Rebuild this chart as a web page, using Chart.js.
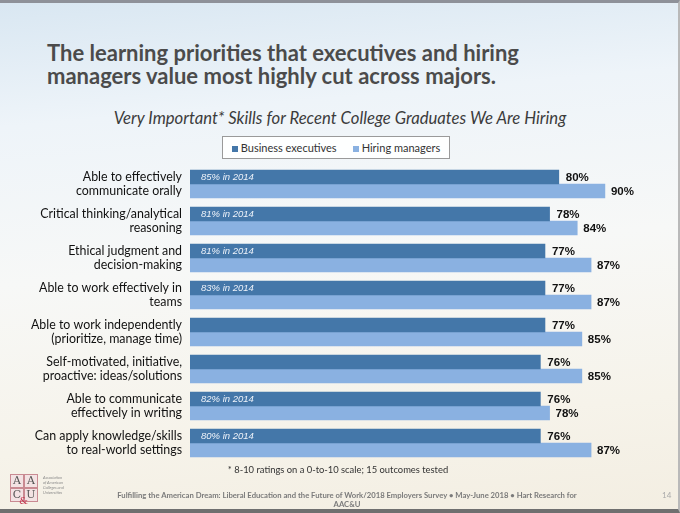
<!DOCTYPE html>
<html>
<head>
<meta charset="utf-8">
<script src="https://cdn.jsdelivr.net/npm/chart.js@4.4.1/dist/chart.umd.min.js"></script>
<style>
  html, body { margin: 0; padding: 0; }
  body { width: 680px; height: 513px; overflow: hidden; font-family: Lato, "Open Sans", sans-serif; }
  #slide {
    position: relative; width: 680px; height: 513px; box-sizing: border-box;
    background: linear-gradient(175deg, #d9e7f2 0%, #eef4f9 22%, #f7f8f7 50%, #f6f3ea 80%, #f3eee2 100%);
    border-top: 3px solid #8e9199; border-bottom: 4px solid #6f6f6f; border-right: 2px solid #b9b9b9;
  }
  /* children are placed from below the 3px top border */
  #title { position: absolute; left: 47px; top: 38px; margin: 0; font-size: 22px; line-height: 23px; font-weight: bold; color: #4b4b4b; }
  #sub { position: absolute; left: 0; width: 680px; top: 105px; text-align: center; font-size: 16.7px; font-style: italic; color: #3c3c3c; }
  #legend { position: absolute; left: 222px; top: 133px; width: 226px; height: 21px; background: rgba(255,255,255,0.92); border: 1px solid #9a9a9a; font-size: 11px; color: #333; text-align: center; line-height: 21px; }
  #legend span.sw { display: inline-block; width: 6px; height: 6px; margin-right: 3px; }
  #legend span.it { margin: 0 8px; }
  #chartBox { position: absolute; left: 0; top: 154px; width: 678px; height: 310px; }
  #note { position: absolute; left: 0; width: 676px; top: 461px; text-align: center; font-size: 9.4px; color: #333; }
  #footer { position: absolute; left: 100px; width: 494px; top: 488px; text-align: center; font-size: 7.7px; line-height: 9px; color: #7a7a7a; font-weight: bold; }
  #page { position: absolute; left: 662px; top: 487px; font-size: 8px; color: #aaa; }
  #logo { position: absolute; left: 10px; top: 471px; width: 28px; height: 28px; }
  #logo div { position: absolute; width: 12px; height: 12px; border: 1px solid #c98a92; background: #f3e2e3; font-family: "DejaVu Serif", serif; font-size: 11px; line-height: 12px; text-align: center; color: #555; }
  #logo span.amp { position: absolute; left: 9px; top: 21px; font-family: "DejaVu Serif", serif; font-size: 10px; color: #c4364f; }
  #logotext { position: absolute; left: 43px; top: 472px; font-size: 4px; line-height: 5px; color: #888; font-style: italic; }
</style>
</head>
<body>
<div id="slide">
  <h1 id="title">The learning priorities that executives and hiring<br>managers value most highly cut across majors.</h1>
  <div id="sub">Very Important* Skills for Recent College Graduates We Are Hiring</div>
  <div id="legend"></div>
  <div id="chartBox"><canvas id="chart"></canvas></div>
  <div id="note">* 8-10 ratings on a 0-to-10 scale; 15 outcomes tested</div>
  <div id="logo">
    <div style="left:0;top:0">A</div><div style="left:14px;top:0">A</div>
    <div style="left:0;top:14px">C</div><div style="left:14px;top:14px">U</div>
    <span class="amp">&amp;</span>
  </div>
  <div id="logotext">Association<br>of American<br>Colleges and<br>Universities</div>
  <div id="footer">Fulfilling the American Dream: Liberal Education and the Future of Work/2018 Employers Survey • May-June 2018 • Hart Research for<br>AAC&amp;U</div>
  <div id="page">14</div>
</div>
<script>
var skills = [
  ['Able to effectively', 'communicate orally'],
  ['Critical thinking/analytical', 'reasoning'],
  ['Ethical judgment and', 'decision-making'],
  ['Able to work effectively in', 'teams'],
  ['Able to work independently', '(prioritize, manage time)'],
  ['Self-motivated, initiative,', 'proactive: ideas/solutions'],
  ['Able to communicate', 'effectively in writing'],
  ['Can apply knowledge/skills', 'to real-world settings']
];
var executives = [80, 78, 77, 77, 77, 76, 76, 76];
var managers = [90, 84, 87, 87, 85, 85, 78, 87];
var execs2014 = [85, 81, 81, 83, null, null, 82, 80];

var darkBlue = '#4477a9';
var lightBlue = '#8ab1e1';

// legend in its own box, like the slide
var legendHtml = '';
[['Business executives', darkBlue], ['Hiring managers', lightBlue]].forEach(function(item){
  legendHtml += '<span class="it"><span class="sw" style="background:' + item[1] + '"></span>' + item[0] + '</span>';
});
document.getElementById('legend').innerHTML = legendHtml;

var barLabels = {
  id: 'barLabels',
  afterDatasetsDraw: function(chart){
    var ctx = chart.ctx;
    ctx.save();
    ctx.textBaseline = 'middle';
    chart.data.datasets.forEach(function(ds, di){
      var meta = chart.getDatasetMeta(di);
      meta.data.forEach(function(bar, i){
        ctx.font = 'bold 11.5px "Liberation Sans", Arial';
        ctx.fillStyle = '#111';
        ctx.fillText(ds.data[i] + '%', bar.x + (di === 0 ? 7 : 6), bar.y + 1);
        if (di === 0 && execs2014[i] != null) {
          ctx.font = 'italic 9.5px "Liberation Sans", Arial';
          ctx.fillStyle = '#eef3fa';
          ctx.fillText(execs2014[i] + '% in 2014', bar.base + 11, bar.y);
        }
      });
    });
    ctx.restore();
  }
};

var ctx = document.getElementById('chart').getContext('2d');
new Chart(ctx, {
  type: 'bar',
  data: {
    labels: skills,
    datasets: [{
      label: 'Business executives',
      backgroundColor: darkBlue,
      data: executives,
      barThickness: 14
    }, {
      label: 'Hiring managers',
      backgroundColor: lightBlue,
      data: managers,
      barThickness: 14
    }]
  },
  options: {
    indexAxis: 'y',
    responsive: true,
    maintainAspectRatio: false,
    animation: false,
    layout: { padding: { top: 8.5, bottom: 5.5, right: 27, left: 0 } },
    plugins: { legend: { display: false }, tooltip: { enabled: false } },
    scales: {
      x: { display: false, min: 0, max: 100 },
      y: {
        grid: { display: false, drawTicks: false },
        border: { display: false },
        ticks: { color: '#111', padding: 8, font: { family: 'Lato', size: 12.4, lineHeight: 1.2 } },
        afterFit: function(scale){
          scale.width = 190;
          scale.paddingTop = 0;
          scale.paddingBottom = 0;
        }
      }
    }
  },
  plugins: [barLabels]
});
</script>
</body>
</html>
